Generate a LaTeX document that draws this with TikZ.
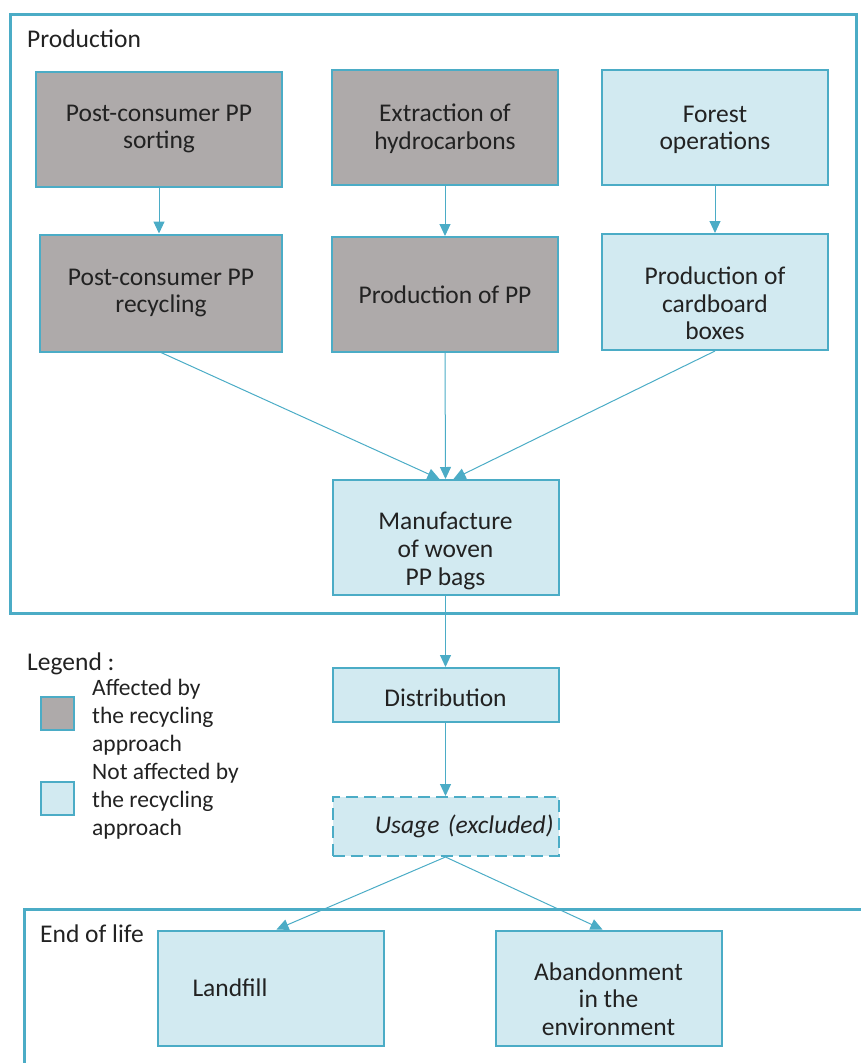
\documentclass[tikz,border=0pt]{standalone}
\usepackage{fontspec}
\setmainfont{Carlito}
\usetikzlibrary{arrows.meta}
\definecolor{frameblue}{HTML}{4BACC6}
\definecolor{affected}{HTML}{AEAAAA}
\definecolor{notaffected}{HTML}{D2EAF1}
\definecolor{textgray}{HTML}{222222}
\tikzset{
  x=1pt, y=-1pt,
  frame/.style={draw=frameblue, line width=3pt},
  stagetext/.style={align=center, inner sep=2pt, text=textgray, font=\fontsize{25.5}{27.6}\selectfont},
  stage/.style={draw=frameblue, line width=2pt, minimum width=226pt, minimum height=115pt, stagetext},
  grey/.style={stage, fill=affected},
  light/.style={stage, fill=notaffected},
  flow/.style={draw=frameblue, line width=1pt, -{Triangle[width=11pt,length=12pt]}},
  label/.style={text=textgray, inner sep=0pt, anchor=west, font=\fontsize{25.5}{28}\selectfont},
  legtext/.style={text=textgray, inner sep=0pt, anchor=north west, align=left, font=\fontsize{23.5}{28}\selectfont},
  swatch/.style={draw=frameblue, line width=2pt, minimum width=33pt, minimum height=33pt, inner sep=0pt},
}
\begin{document}
\begin{tikzpicture}
\useasboundingbox (0,0) rectangle (860,1063);

% Production frame
\draw[frame] (10,14) rectangle (856,613);
\node[label] (prodlbl) at (27,39) {Production};

% Production stages
\node[grey, minimum width=246pt] (sort) at (159,129) {Post-consumer PP\\sorting};
\node[grey] (extract) at (445,127) {};
\node[stagetext] (extracttxt) at ([yshift=-1.5pt]extract.center) {Extraction of\\hydrocarbons};
\node[light] (forest) at (715,127) {};
\node[stagetext] (foresttxt) at ([yshift=-3pt]forest.center) {Forest\\operations};
\node[grey, minimum width=242pt, minimum height=117pt] (recyc) at (161,293) {Post-consumer PP\\recycling};
\node[grey] (pp) at (445,294.5) {Production of PP};
\node[light, minimum height=116pt] (card) at (715,292) {};
\node[stagetext] (cardtxt) at ([yshift=-11.5pt]card.center) {Production of\\cardboard\\boxes};
\node[light] (manuf) at (445.5,537.5) {};
\node[stagetext] (manuftxt) at ([yshift=-13.5pt]manuf.center) {Manufacture\\of woven\\PP bags};

% Life cycle after production
\node[light, minimum height=54pt] (distrib) at (445.5,695) {};
\node[stagetext] (distribtxt) at ([yshift=-2.5pt]distrib.center) {Distribution};
\node[light, minimum height=59pt, dashed, dash pattern=on 12pt off 6pt, text width=216pt, align=right] (usage) at (445.5,826.5) {\itshape Usage (excluded)};

% End of life frame (open at the bottom)
\draw[frame] (24,1070) -- (24,909) -- (866,909);
\node[label] (eollbl) at (40,934) {End of life};
\node[light, text width=216pt, align=left] (landfill) at (270.5,988) {\hspace*{30pt}Landfill};
\node[light] (abandon) at (608.5,988) {};
\node[stagetext] (abandontxt) at ([yshift=-11pt]abandon.center) {Abandonment\\in the\\environment};

% Flows
\draw[flow] (sort.south) -- (sort.south |- recyc.north);
\draw[flow] (extract.south) -- (pp.north);
\draw[flow] (forest.south) -- (card.north);
\draw[flow] (recyc.south) -- ([xshift=-6pt]manuf.north);
\draw[flow] (pp.south) -- (manuf.north);
\draw[flow] (card.south) -- ([xshift=8pt]manuf.north);
\draw[flow] (manuf.south) -- (distrib.north);
\draw[flow] (distrib.south) -- (usage.north);
\draw[flow] (usage.south) -- ([xshift=6pt]landfill.north);
\draw[flow] (usage.south) -- ([xshift=-6pt]abandon.north);

% Legend
\node[label] (leglbl) at (27,664) {Legend :};
\node[swatch, fill=affected] (swgrey) at (57,713.5) {};
\node[swatch, fill=notaffected] (swlight) at (57,798.5) {};
\node[legtext] (legaff) at (92,679) {Affected by\\the recycling\\approach};
\node[legtext] (legnot) at (92,763) {Not affected by\\the recycling\\approach};
\end{tikzpicture}
\end{document}
